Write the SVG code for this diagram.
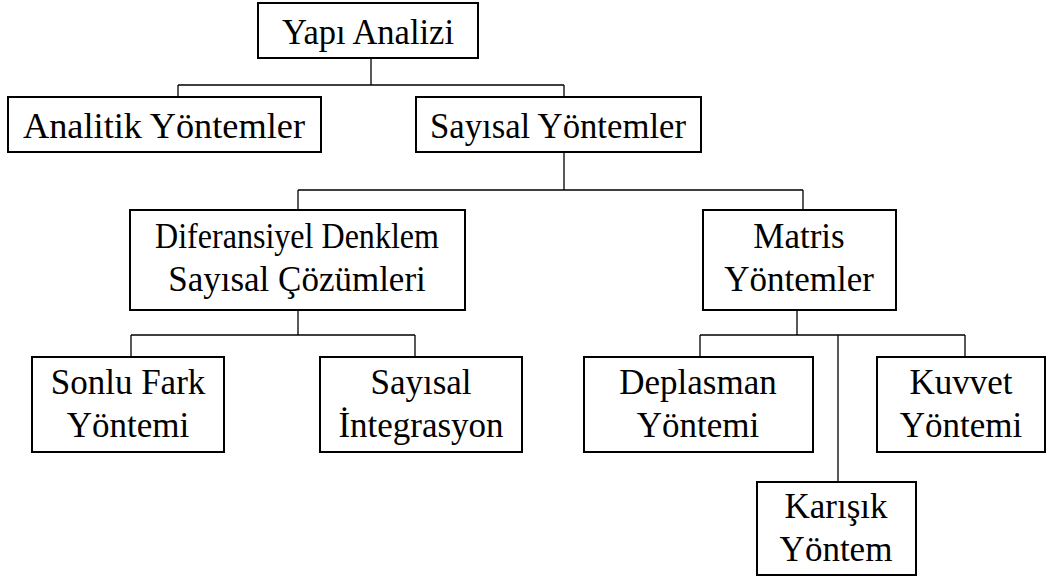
<svg xmlns="http://www.w3.org/2000/svg" width="1056" height="578" viewBox="0 0 1056 578">
<style>
.box{fill:#fff;stroke:#000;stroke-width:2}
.t{font-size:35px;fill:#000;text-anchor:middle}
.c{fill:none;stroke:#000;stroke-width:1.3}
</style>
<rect width="1056" height="578" fill="#fff"/>
<g id="connectors">
<path class="c" d="M371 58V85M178 85H564M178 85V97M564 85V97"/>
<path class="c" d="M564 152V190M298 190H803M298 190V210M803 190V210"/>
<path class="c" d="M298 310V335M131 335H415M131 335V357M415 335V357"/>
<path class="c" d="M797 310V335M700 335H965M700 335V357M965 335V357M838 335V482"/>
</g>
<g font-family="Liberation Serif, Times New Roman, Times, serif">
<g id="yapi-analizi"><rect class="box" x="258" y="3" width="220" height="55"/><text class="t" x="368" y="44" textLength="172" lengthAdjust="spacingAndGlyphs">Yapı Analizi</text></g>
<g id="analitik"><rect class="box" x="8" y="97" width="313" height="55"/><text class="t" x="164" y="138" textLength="282" lengthAdjust="spacingAndGlyphs">Analitik Yöntemler</text></g>
<g id="sayisal"><rect class="box" x="416" y="97" width="285" height="55"/><text class="t" x="558" y="138" textLength="256" lengthAdjust="spacingAndGlyphs">Sayısal Yöntemler</text></g>
<g id="diferansiyel"><rect class="box" x="130" y="210" width="335" height="100"/><text class="t" x="297" y="248" textLength="284" lengthAdjust="spacingAndGlyphs">Diferansiyel Denklem</text><text class="t" x="297" y="291">Sayısal Çözümleri</text></g>
<g id="matris"><rect class="box" x="703" y="210" width="193" height="100"/><text class="t" x="799" y="248">Matris</text><text class="t" x="799" y="291">Yöntemler</text></g>
<g id="sonlu-fark"><rect class="box" x="32" y="357" width="192" height="95"/><text class="t" x="128" y="394">Sonlu Fark</text><text class="t" x="128" y="437">Yöntemi</text></g>
<g id="sayisal-integrasyon"><rect class="box" x="320" y="357" width="202" height="95"/><text class="t" x="421" y="394">Sayısal</text><text class="t" x="421" y="437">İntegrasyon</text></g>
<g id="deplasman"><rect class="box" x="584" y="357" width="229" height="95"/><text class="t" x="698" y="394">Deplasman</text><text class="t" x="698" y="437">Yöntemi</text></g>
<g id="kuvvet"><rect class="box" x="877" y="357" width="168" height="95"/><text class="t" x="961" y="394">Kuvvet</text><text class="t" x="961" y="437">Yöntemi</text></g>
<g id="karisik"><rect class="box" x="757" y="482" width="159" height="93"/><text class="t" x="836" y="518">Karışık</text><text class="t" x="836" y="561">Yöntem</text></g>
</g>
</svg>
